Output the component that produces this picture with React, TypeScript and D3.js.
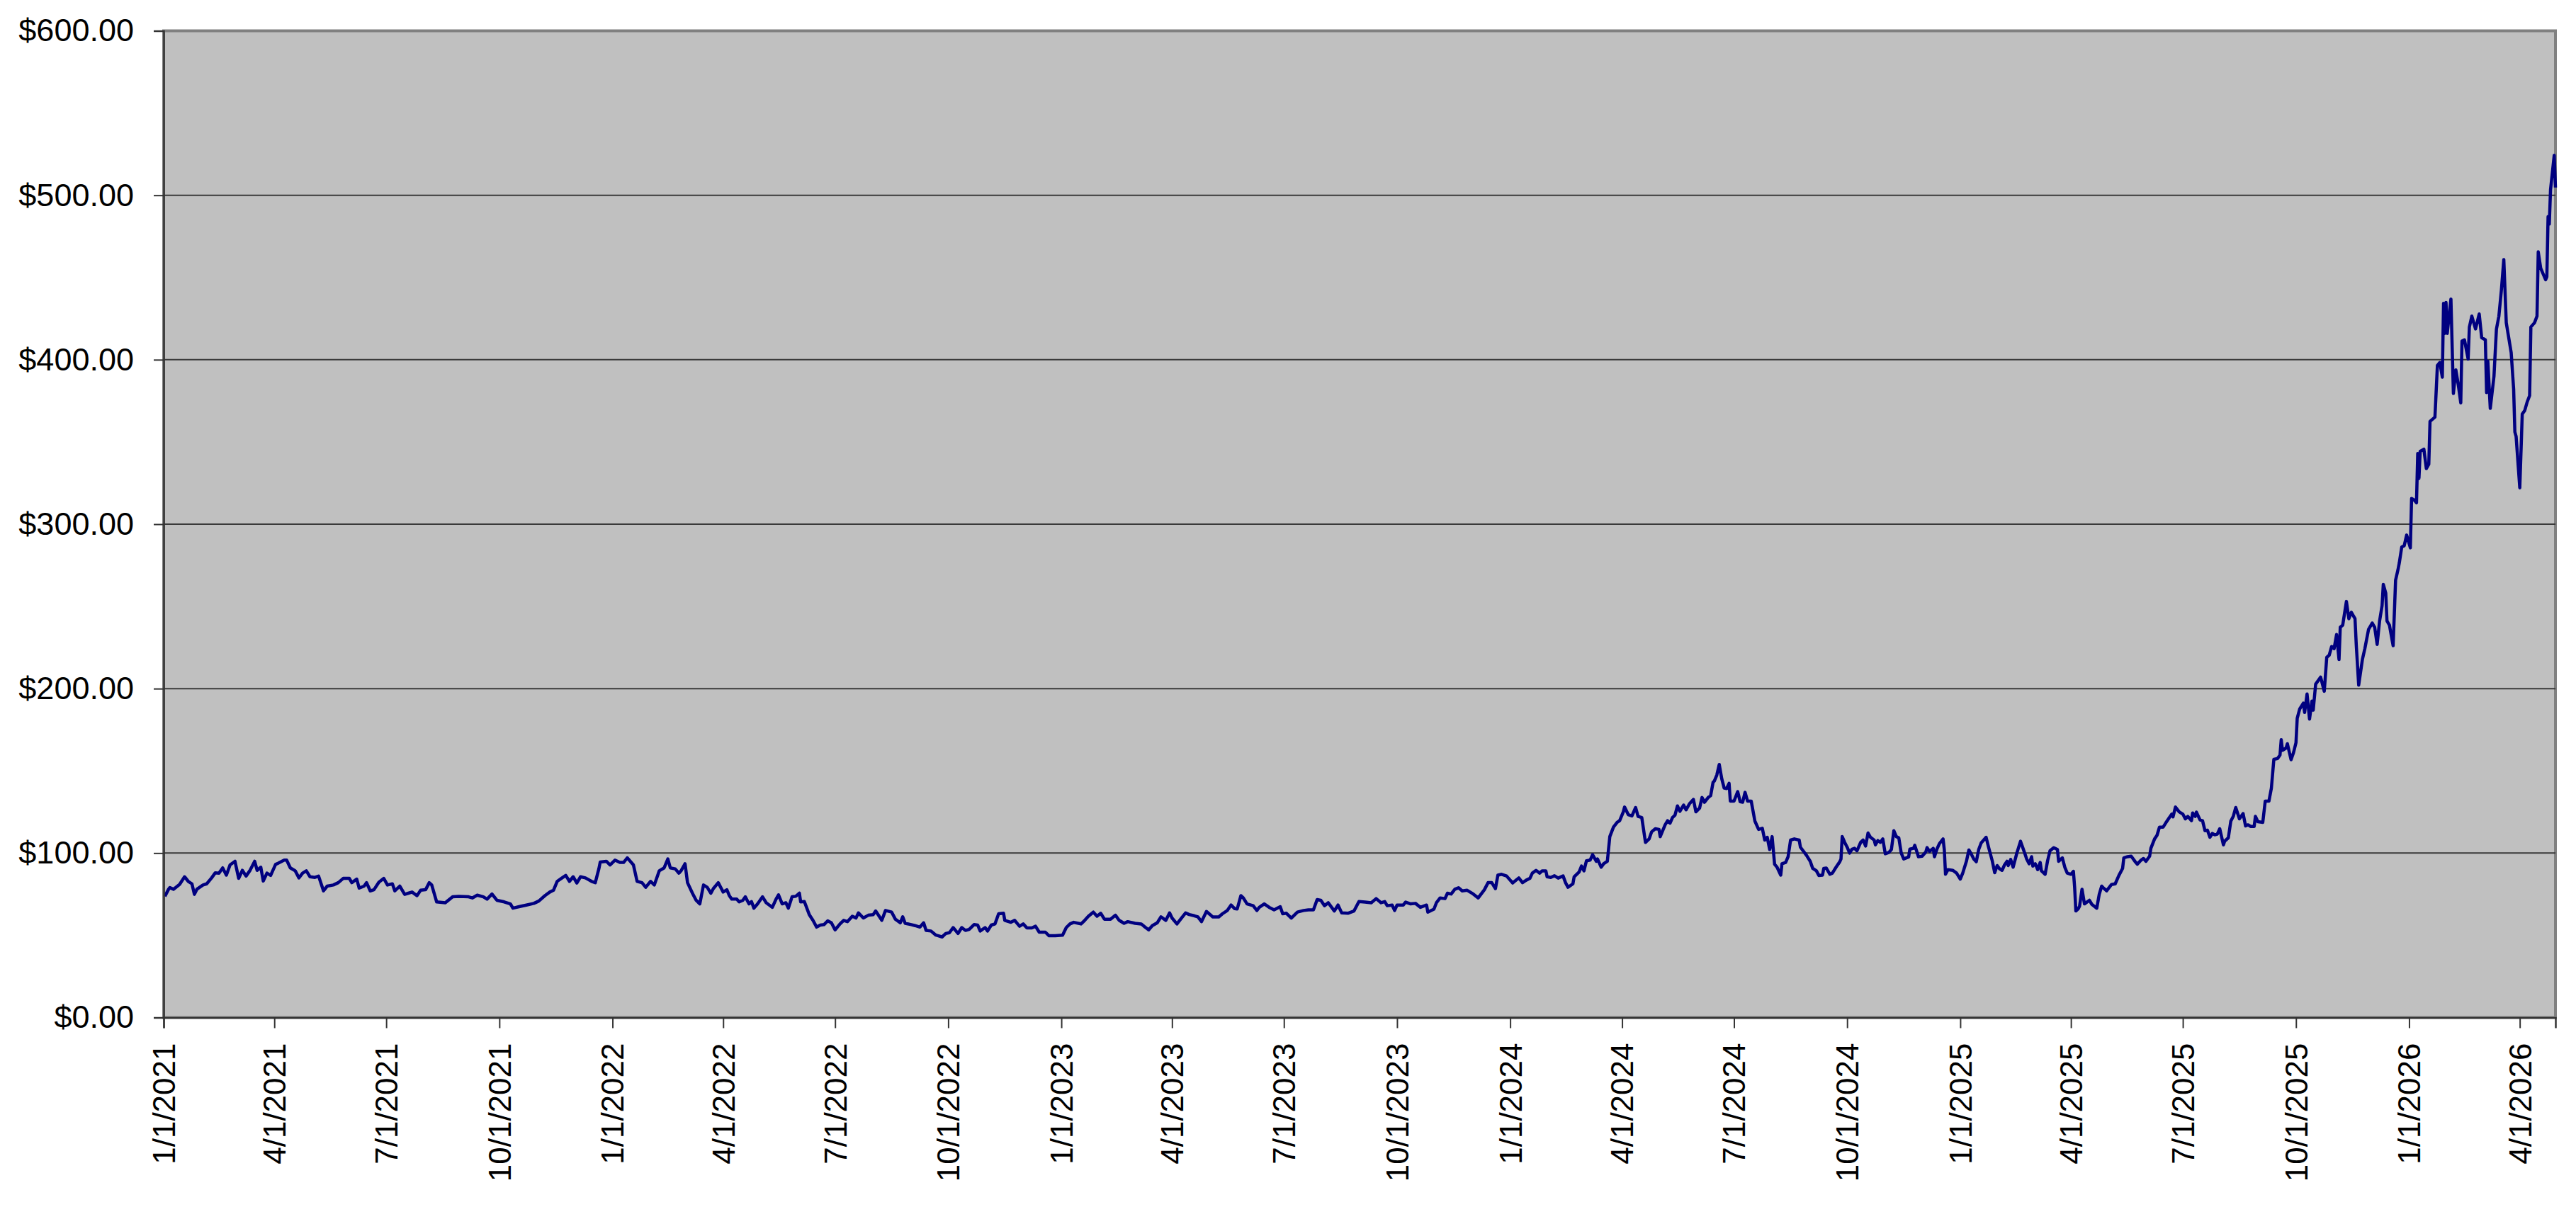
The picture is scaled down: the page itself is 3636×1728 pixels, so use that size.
import React, { useEffect, useRef } from 'react';
import * as d3 from 'd3';

// series starts on this date, days below are counted from it
const startDate = '1/1/2021';
const lastDay = 1945;

const tickLabels = [
  '1/1/2021', '4/1/2021', '7/1/2021', '10/1/2021',
  '1/1/2022', '4/1/2022', '7/1/2022', '10/1/2022',
  '1/1/2023', '4/1/2023', '7/1/2023', '10/1/2023',
  '1/1/2024', '4/1/2024', '7/1/2024', '10/1/2024',
  '1/1/2025', '4/1/2025', '7/1/2025', '10/1/2025',
  '1/1/2026', '4/1/2026',
];

const yTicks = [0, 100, 200, 300, 400, 500, 600];

// days since start
const days = [
  1, 4, 5, 8, 13, 17, 20, 23, 25, 27, 32, 35, 39, 42, 45, 48, 51, 54, 58, 61, 64, 67, 70, 74, 76, 79, 81, 84, 87, 91, 93, 98,
  100, 103, 107, 110, 113, 116, 119, 123, 126, 130, 133, 138, 142, 146, 151, 153, 157, 159, 163, 165, 168, 171, 175, 179, 182,
  186, 188, 192, 196, 199, 202, 206, 209, 213, 216, 218, 222, 229, 235, 240, 248, 251, 255, 260, 263, 267, 271, 277, 282, 284,
  289, 295, 301, 305, 310, 314, 317, 320, 324, 327, 330, 333, 336, 339, 343, 348, 351, 354, 355, 360, 363, 367, 371, 374, 377,
  382, 385, 389, 392, 396, 399, 403, 407, 410, 412, 416, 419, 421, 424, 426, 430, 433, 436, 439,
  442, 445, 447, 451, 455, 458, 460, 462, 466, 468, 471, 473, 476, 478, 480, 483, 487, 490, 495, 498, 500, 503, 506, 508, 511,
  514, 517, 518, 521, 525, 528, 531, 534, 537, 540, 543, 546, 550, 553, 556, 560, 563, 565, 569, 573, 577, 579, 584, 587, 592,
  595, 599, 601, 603, 608, 611, 615, 618, 620, 624, 628, 630, 633, 636, 639, 642, 646, 649, 652, 655, 659, 662, 664, 668, 670,
  673, 676, 679, 683, 684, 689, 692, 696, 699, 702, 706, 709, 712, 717, 720, 725, 731, 734, 737, 740, 746, 749, 752, 756, 759,
  762, 765, 770, 774, 777, 781, 784, 790, 795, 798, 801, 804, 808, 811, 815, 818, 820, 824, 827, 831, 834, 838, 841, 844, 848,
  851, 853, 858, 861, 865, 868, 871, 873, 876, 878, 881, 886, 889,
  891, 895, 899, 903, 908, 910, 913, 917, 922, 927, 931, 935, 938, 941, 944, 947, 952, 955, 958, 963, 968, 972, 977, 982, 986,
  990, 993, 995, 999, 1001, 1003, 1008, 1010, 1014, 1018, 1022, 1027, 1028, 1033, 1035, 1038, 1042, 1044, 1047, 1050, 1053,
  1056, 1060, 1065, 1069, 1074, 1077, 1080, 1083, 1085, 1088, 1092, 1097, 1102, 1105, 1108, 1111, 1113, 1116, 1119, 1121, 1124,
  1125, 1128, 1131, 1134, 1138, 1140, 1142, 1146, 1147, 1151, 1153, 1155, 1157, 1160, 1162, 1165, 1166, 1169, 1171, 1174, 1176,
  1179, 1182, 1184, 1187, 1188, 1191, 1194, 1197, 1199, 1202, 1205, 1208, 1210, 1213, 1216, 1217, 1221, 1223, 1225, 1227, 1229,
  1231, 1233, 1236, 1238, 1241, 1244, 1246, 1249, 1251, 1253, 1256, 1258, 1260, 1261, 1263, 1265, 1267, 1269, 1271, 1273, 1274,
  1277, 1280, 1282, 1284, 1286, 1288, 1291, 1294, 1297, 1300, 1302, 1304, 1306, 1308, 1310, 1312, 1315, 1316, 1319, 1321, 1323,
  1326, 1330, 1331, 1336, 1339,
  1341, 1344, 1346, 1349, 1350, 1352, 1355, 1357, 1360, 1363, 1364, 1365, 1367, 1369, 1371, 1373, 1375, 1377, 1380, 1382, 1384,
  1386, 1388, 1391, 1392, 1394, 1396, 1398, 1400, 1403, 1405, 1407, 1409, 1411, 1413, 1415, 1419, 1420, 1423, 1424, 1427, 1430,
  1433, 1434, 1436, 1439, 1440, 1442, 1444, 1447, 1448, 1449, 1451, 1455, 1458, 1461, 1463, 1466, 1468, 1470, 1472, 1474, 1476,
  1478, 1482, 1484, 1487, 1489, 1491, 1493, 1495, 1497, 1499, 1500, 1502, 1504, 1507, 1510, 1512, 1514, 1515, 1517, 1519, 1520,
  1522, 1524, 1526, 1527, 1530, 1532, 1534, 1537, 1540, 1541, 1544, 1546, 1548, 1551, 1553, 1554, 1555, 1557, 1558, 1560, 1562,
  1566, 1568, 1572, 1574, 1576, 1578, 1580, 1584, 1587, 1590, 1593, 1594, 1597, 1600, 1603, 1605, 1608, 1610, 1612, 1615, 1616,
  1619, 1621, 1623, 1626, 1628, 1631, 1633, 1634, 1636, 1639, 1642, 1644, 1646, 1649, 1650, 1652,
  1653, 1656, 1658, 1660, 1662, 1664, 1666, 1668, 1670, 1672, 1675, 1676, 1679, 1681, 1683, 1685, 1688, 1691, 1693, 1695, 1697,
  1700, 1701, 1703, 1707, 1709, 1712, 1714, 1716, 1719, 1721, 1722, 1723, 1726, 1727, 1730, 1732, 1734, 1735, 1737, 1740, 1741,
  1743, 1745, 1747, 1748, 1750, 1754, 1755, 1757,
  1759, 1761, 1763, 1765, 1767, 1769, 1770, 1772, 1775, 1777, 1779, 1782, 1783, 1785, 1788, 1790, 1793, 1796, 1798, 1800, 1802,
  1804, 1805, 1807, 1808, 1810, 1813, 1815, 1817, 1818, 1820, 1822, 1824, 1827, 1828, 1830, 1832, 1833, 1834, 1835, 1838, 1840,
  1842, 1843, 1845, 1847, 1849, 1851, 1853, 1854, 1855, 1856, 1857, 1860, 1862, 1864, 1866, 1868, 1869, 1871, 1874, 1875, 1877,
  1880, 1883, 1885, 1888, 1889, 1890, 1892, 1895, 1897, 1899, 1901, 1903, 1905, 1909, 1911, 1912, 1913, 1916, 1918, 1920, 1922,
  1924, 1925, 1928, 1930, 1931, 1933, 1937, 1938, 1939, 1940, 1941, 1944, 1945,
];

// closing price, USD
const prices = [
  73.7, 78, 79, 78, 81, 85.6, 82.8, 81.3, 74.9, 78, 80.6, 81.3, 84.9, 88, 87.8, 91, 86.6, 92.8, 95, 84.6, 89.5, 86, 89.2, 95, 89.5, 91.4, 83, 87.8, 86.4, 93.1, 93.8, 95.7,
  95.7, 91, 89.2, 84.9, 87.8, 89.2, 85.6, 85.2, 86, 77, 79.9, 80.6, 82, 84.6, 84.6, 82, 84.2, 78.7, 79.9, 82, 77, 77.7, 82.3, 84.6, 80.6,
  81.3, 77, 79.9, 74.9, 75.6, 76.3, 74.1, 77.4, 77.7, 82, 80.6, 70.3, 69.8, 73.4, 73.7, 73.4, 72.7, 74.4, 73.4, 72, 75.1, 71.3, 70.3, 69.1, 66.5,
  67.4, 68.4, 69.4, 70.8, 74.1, 76.3, 77.4, 82.8, 84.9, 86.4, 82.8, 85.6, 81.8, 85.6, 84.9, 82.8, 82, 90.7, 94.5, 95, 92.8, 95.7, 94.3, 94.3, 97.1,
  92.8, 82.8, 82, 79.2, 82.8, 80.6, 89.2, 91, 96.4, 91, 90.4, 87.8, 89.5, 93.5, 82, 75.6, 71.3, 69.1, 80.6,
  79.2, 75.6, 78.4, 82, 76.3, 77.7, 74.1, 72, 72, 70.3, 71.3, 73.4, 69.1, 70.5, 66.5, 69.1, 73.4, 69.8, 67, 72, 74.6, 69.1, 69.8, 66.5, 73.4,
  73.7, 75.6, 70.3, 70.5, 62.6, 59.1, 55, 56.2, 56.5, 58.8, 57.6, 53.3, 56.9, 59.1, 58.3, 61.6, 60.5, 63.6, 60.5, 62.2, 62.6, 64.8, 59.1, 65.1, 64.1,
  59.8, 57.6, 61.2, 57.3, 56.5, 55.9, 55, 57.6, 53, 52.6, 50.1, 49.7, 49, 51.1, 51.6, 54.7, 51.1, 54.7, 53, 53.6, 56.5, 56.2, 52.6, 54.7, 52.6,
  56.2, 56.9, 63.1, 63.4, 59.1, 57.9, 59.1, 55.5, 56.9, 54.5, 54.5, 55.5, 51.9, 51.9, 49.7, 49.7, 50.1, 54.7, 56.9, 57.9, 56.9, 59.1, 61.6, 64.1, 61.6,
  63.4, 59.8, 59.8, 62.2, 59.1, 57.3, 58.3, 57.3, 56.9, 55, 53.3, 55.9, 57.6, 61.2, 59.1, 63.6, 60.5, 56.9, 59.8, 63.6, 62.6, 61.9, 61.2, 58.3, 64.5,
  62.6, 61.2, 61.2, 63.1, 65.1, 68.4, 66.2, 66, 74.1, 72.7, 69.1, 68, 65.1,
  67, 69.1, 67, 65.5, 67.4, 63.1, 63.4, 60.5, 64.1, 65.1, 65.5, 65.5, 71.7, 71.3, 68, 69.8, 64.8, 68.4, 63.6, 63.4, 64.8, 70.5, 70.2, 69.8, 72.3,
  69.8, 70.5, 68, 68.4, 65.1, 68.4, 68.4, 70.2, 69.1, 69.4, 67, 68.4, 64.1, 65.9, 69.8, 72.7, 72.3, 75.6, 75.1, 78, 78.9,
  77, 77.4, 75.1, 72.7, 77.7, 82, 82, 78.4, 86.6, 87.1, 86.1, 81.8, 84.9, 82, 83.5, 84.6, 87.8, 89.5, 87.8, 89.2, 89.2,
  85.6, 85.2, 86.2, 84.8, 86.1, 82, 79.2, 81.3, 85.6, 88.5, 92.1, 89.2, 95.3, 95.7, 99, 95, 96.4, 91.4, 93.5, 95, 110,
  115.8, 118.7, 119.7, 125.1, 128, 123.4, 122.6, 127.7, 122.3, 121.6, 106.5, 108.6, 112.9, 114.8, 114.4, 110, 117.2, 119.7, 118.2, 121.6, 123,
  128.7, 125.4, 129.2, 126.3, 130.2, 132.6, 125.1, 127.3, 133.8, 130.9, 133.8, 134.9, 143.1, 143.8, 147.4, 153.9, 145.3, 139.5, 139.2, 142.4, 131.6,
  131.6, 137.4, 131.2, 130.9, 136.9, 131.6, 131.6, 119.4, 114.4, 115.1, 107.9, 109.6, 102.2, 110, 93.2, 91.4, 86.6, 93.5, 94.3, 97.8, 107.9,
  108.6, 107.9, 103.6, 98.6, 95,
  90.7, 89.2, 86.4, 86.6, 90.7, 90.9, 87.1, 87.8, 91.4, 94.7, 96.4, 110, 106.5, 103.6, 100, 102.4, 102.9, 101.4, 106.5, 107.9, 104.3,
  112.2, 109.6, 107.9, 105, 107.6, 106.5, 108.6, 99.6, 100.4, 102.2, 113.6, 110, 109.3, 100, 96.4, 97.6, 102.4, 102.9, 104.7, 97.8, 98.1,
  100.7, 103.3, 101, 102.9, 97.8, 102.4, 105.7, 108.6, 102.2, 87.1, 89.9, 89.5, 87.8, 84.2, 87.8, 95, 101.9, 99.3, 96.4, 94.7, 102.2,
  106.2, 109.6, 103.6, 95.3, 88.1, 92.4, 90.4, 89.5, 92.8, 95, 92.4, 96.1, 91.4, 100, 107.2, 102.9, 98.6, 96.4, 93.5, 97.8, 92.1,
  93.5, 89.9, 94.3, 89.2, 87.1, 95.3, 101.4, 103.3, 102.2, 95, 97.1, 91.4, 87.8, 87.1, 88.9, 79.2, 64.8, 66.2, 67.7, 78, 69.1,
  71.3, 68.8, 66.5, 74.9, 79.9, 78.4, 77, 80.9, 81.3, 86.4, 90.7, 97.1, 97.8, 98.1, 95, 93.2, 95.7, 96.7, 95, 98.1, 102.9,
  108.6, 110.8, 115.8, 115.8, 118.2, 121.6, 123.7, 122, 128, 125.1, 123.7, 120.8, 122.3, 119.7, 124.4, 122.3,
  124.9, 120.1, 119.7, 113.6, 113.9, 109.6, 111.9, 111.1, 111.5, 114.8, 105, 107.2, 109.3, 119.4, 122.3, 127.7, 120.8, 124, 116.5, 117.2, 116.2,
  116.2, 122.3, 119.1, 118.7, 131.6, 131.6, 139.5, 157, 157.5, 159.6, 169, 162.5, 163.9, 166.5, 156.8, 161.1, 167.1, 181.9, 187.6, 191.2, 185.5,
  196.7, 181.5, 192.4, 186.9, 202.7, 207, 204.2, 198.4,
  219, 220.3, 225.6, 224.3, 232.9, 217.7, 237.3, 238.6, 253, 242.5, 246.4, 242.5, 226.9, 202.1, 217.7, 224.3, 236, 239.9, 237.3, 226.9, 241.2,
  250.4, 263.4, 258.1, 241.2, 238.6, 226.1, 266, 272.5, 276.4, 286.1, 286.9, 293.4, 285.6, 315.6, 314.8, 313, 343, 327.8, 344.3, 345.6, 333.8,
  336.4, 362.5, 363.8, 365.1, 396.5, 398.3, 389.4, 434.3, 416, 434.8, 416, 436.9, 379.5, 393.8, 384.7, 373.8, 411.3, 412.1, 400.4, 419.9, 426.5,
  418.7, 427.8, 413.4, 412.1, 380, 399.1, 370.4, 389.9, 418.6, 426.5, 442.1, 460.9, 422.5, 404.3, 382.1, 356, 353.4, 322.1, 367, 369.1, 374.3,
  378.2, 419.9, 422.5, 426.5, 465.6, 455.7, 448.6, 450.4, 487, 482.5, 503.4, 524.3, 504.7,
];

export default () => {
  const svgRef = useRef<SVGSVGElement>(null);

  useEffect(() => {
    if (!svgRef.current) return;

    const W = 3636;
    const H = 1728;
    const left = 231;
    const right = 3607;
    const top = 43.5;
    const bottom = 1436.5;
    const font = '"Liberation Sans", Arial, sans-serif';

    const parse = d3.timeParse('%m/%d/%Y');
    const start = parse(startDate) as Date;
    const data = days.map((d, i) => ({ date: d3.timeDay.offset(start, d), price: prices[i] }));

    const x = d3.scaleTime()
      .domain([start, d3.timeDay.offset(start, lastDay)])
      .range([left, right]);
    const y = d3.scaleLinear().domain([0, 600]).range([bottom, top]);

    const svg = d3.select(svgRef.current).attr('width', W).attr('height', H);
    svg.selectAll('*').remove();

    svg.append('rect').attr('width', W).attr('height', H).attr('fill', '#ffffff');

    // plot area
    svg.append('rect')
      .attr('x', left).attr('y', top)
      .attr('width', right - left).attr('height', bottom - top)
      .attr('fill', '#c0c0c0')
      .attr('stroke', '#808080')
      .attr('stroke-width', 4);

    // gridlines
    svg.append('g')
      .selectAll('line')
      .data(yTicks.filter(t => t > 0 && t < 600))
      .enter()
      .append('line')
      .attr('x1', left).attr('x2', right)
      .attr('y1', d => y(d)).attr('y2', d => y(d))
      .attr('stroke', '#3a3a3a')
      .attr('stroke-width', 2);

    // price line
    const line = d3.line<{ date: Date; price: number }>()
      .x(d => x(d.date))
      .y(d => y(d.price));

    svg.append('path')
      .datum(data)
      .attr('d', line)
      .attr('fill', 'none')
      .attr('stroke', '#000080')
      .attr('stroke-width', 4.5)
      .attr('stroke-linejoin', 'round');

    // y axis
    const yAxis = svg.append('g')
      .attr('transform', `translate(${left},0)`)
      .call(
        d3.axisLeft(y)
          .tickValues(yTicks)
          .tickFormat(d => d3.format('$,.2f')(d as number))
          .tickSize(14)
          .tickPadding(28)
      );
    yAxis.select('.domain').attr('stroke', '#333').attr('stroke-width', 2.5);
    yAxis.selectAll('.tick line').attr('stroke', '#333').attr('stroke-width', 2);
    yAxis.selectAll('text')
      .attr('font-family', font)
      .attr('font-size', 45)
      .attr('fill', '#000');
    yAxis.attr('font-family', null).attr('font-size', null);

    // x axis
    const tickDates = tickLabels.map(t => parse(t) as Date);
    const xAxis = svg.append('g')
      .attr('transform', `translate(0,${bottom})`)
      .call(
        d3.axisBottom(x)
          .tickValues(tickDates)
          .tickFormat((_, i) => tickLabels[i])
          .tickSize(15)
      );
    xAxis.select('.domain').attr('stroke', '#333').attr('stroke-width', 2.5);
    xAxis.selectAll('.tick line').attr('stroke', '#333').attr('stroke-width', 2);
    xAxis.selectAll('text')
      .attr('font-family', font)
      .attr('font-size', 44)
      .attr('fill', '#000')
      .attr('transform', 'rotate(-90)')
      .attr('x', -36)
      .attr('y', 0)
      .attr('dy', '0.35em')
      .style('text-anchor', 'end');
    xAxis.attr('font-family', null).attr('font-size', null);
  }, []);

  return (
    <div>
      <svg ref={svgRef} style={{ position: 'absolute', left: 0, top: 0, display: 'block' }} />
    </div>
  );
}
